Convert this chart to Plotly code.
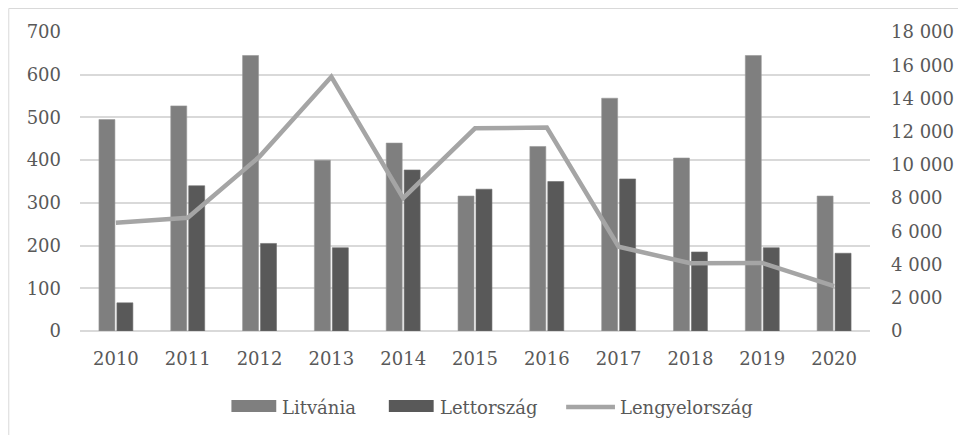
import plotly.graph_objects as go

years = ["2010", "2011", "2012", "2013", "2014", "2015", "2016", "2017", "2018", "2019", "2020"]
litvania = [495, 527, 645, 400, 440, 316, 432, 545, 405, 645, 316]
lettorszag = [66, 340, 205, 195, 377, 332, 350, 356, 185, 195, 182]
lengyelorszag = [6520, 6820, 10500, 15300, 8000, 12200, 12250, 5070, 4080, 4100, 2700]
series_names = ["Litvánia", "Lettország", "Lengyelország"]
left_ticks = [0, 100, 200, 300, 400, 500, 600, 700]
right_ticks = [0, 2000, 4000, 6000, 8000, 10000, 12000, 14000, 16000, 18000]

C_LIT = "#7f7f7f"
C_LET = "#595959"
C_LEN = "#a5a5a5"
GRID = "#d9d9d9"
FONT = "DejaVu Serif"
TXT = "#595959"
FS = 18

OFF = 8  # page body offset
W, H = 966 - OFF, 435 - OFF
# plot area in window pixels
PL, PR, PT, PB = 80, 873, 32, 331
ML, MR, MT, MB = PL - OFF, W - (PR - OFF), PT - OFF, H - (PB - OFF)
PW, PH = PR - PL, PB - PT


def px(x):
    return (x - PL) / PW


def py(y):
    return (PB - y) / PH


fig = go.Figure()
fig.add_trace(go.Bar(x=years, y=litvania, name=series_names[0], marker=dict(color=C_LIT, line=dict(width=0.6, color="#999999")), yaxis="y"))
fig.add_trace(go.Bar(x=years, y=lettorszag, name=series_names[1], marker=dict(color=C_LET, line=dict(width=0.6, color="#6e6e6e")), yaxis="y"))
fig.add_trace(go.Scatter(x=years, y=lengyelorszag, name=series_names[2], mode="lines", line=dict(color=C_LEN, width=4.5), yaxis="y2"))

shapes = [
    dict(type="rect", xref="paper", yref="paper", x0=px(232), x1=px(277), y0=py(412), y1=py(400), fillcolor=C_LIT, line=dict(width=0)),
    dict(type="rect", xref="paper", yref="paper", x0=px(390), x1=px(435), y0=py(412), y1=py(400), fillcolor=C_LET, line=dict(width=0)),
    dict(type="line", xref="paper", yref="paper", x0=px(568), x1=px(617), y0=py(407), y1=py(407), line=dict(color=C_LEN, width=4.5)),
    dict(type="rect", xref="paper", yref="paper", x0=px(OFF + 0.5), x1=px(975), y0=py(OFF + 0.5), y1=py(460), line=dict(color=GRID, width=1), fillcolor="rgba(0,0,0,0)", layer="below"),
]
annotations = [
    dict(text=series_names[i], xref="paper", yref="paper", x=px(xx), y=py(407), xanchor="left", yanchor="middle",
         showarrow=False, font=dict(family=FONT, size=FS, color=TXT))
    for i, xx in enumerate([281, 439, 620])
]

fig.update_layout(
    width=W, height=H,
    margin=dict(l=ML, r=MR, t=MT, b=MB, pad=0),
    paper_bgcolor="white", plot_bgcolor="white",
    showlegend=False,
    barmode="group", bargap=0.5, bargroupgap=0.11,
    separators=". ",
    font=dict(family=FONT, size=FS, color=TXT),
    xaxis=dict(showgrid=False, showline=False, ticks="", ticklabelstandoff=15, tickfont=dict(size=FS, color=TXT)),
    yaxis=dict(range=[0, 700], tickvals=left_ticks, showgrid=True, gridcolor=GRID, gridwidth=1.5, zeroline=True, zerolinecolor=GRID, zerolinewidth=1.5, showline=False, ticks="", ticklabelstandoff=18, tickfont=dict(size=FS, color=TXT)),
    yaxis2=dict(range=[0, 18000], tickvals=right_ticks, tickformat=",d", overlaying="y", side="right", showgrid=False, zeroline=False, showline=False, ticks="", ticklabelstandoff=20, tickfont=dict(size=FS, color=TXT)),
    shapes=shapes,
    annotations=annotations,
)

fig.write_html("out.html")
